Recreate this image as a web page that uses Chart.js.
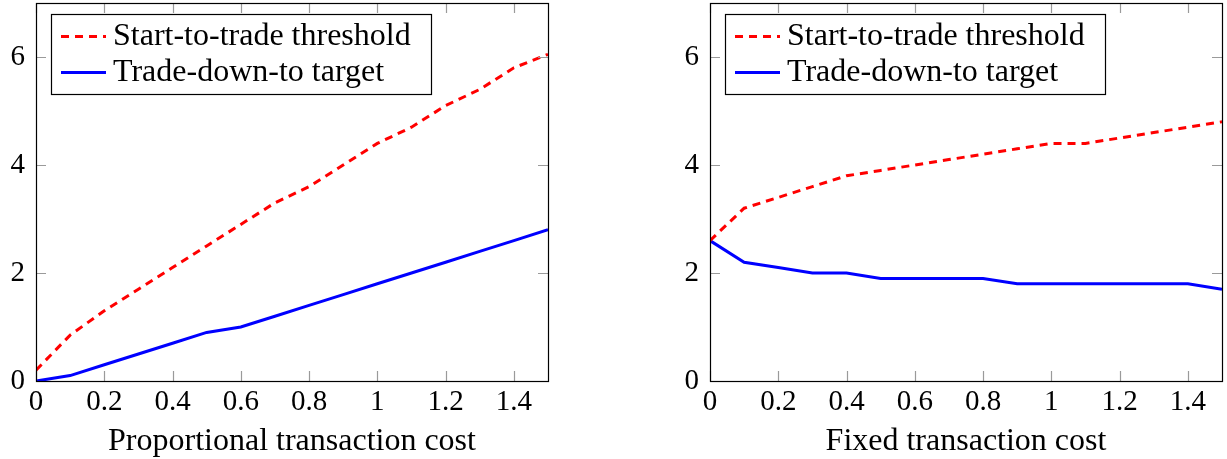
<!DOCTYPE html>
<html>
<head>
<meta charset="utf-8">
<script src="https://cdn.jsdelivr.net/npm/chart.js@4.4.1/dist/chart.umd.min.js"></script>
<style>
  html, body { margin: 0; padding: 0; background: #fff; }
  .panel { position: absolute; top: 0; height: 459px; }
  #leftPanel { left: 0; width: 560px; }
  #rightPanel { left: 674px; width: 553px; }
</style>
</head>
<body>
<div class="panel" id="leftPanel"><canvas id="chartProp"></canvas></div>
<div class="panel" id="rightPanel"><canvas id="chartFixed"></canvas></div>
<script>
const costs = [0, 0.1, 0.2, 0.3, 0.4, 0.5, 0.6, 0.7, 0.8, 0.9, 1.0, 1.1, 1.2, 1.3, 1.4, 1.5];

// proportional cost panel
const propThreshold = [0.2, 0.85, 1.3, 1.7, 2.1, 2.5, 2.9, 3.3, 3.6, 4.0, 4.4, 4.7, 5.1, 5.4, 5.8, 6.05];
const propTarget = [0, 0.1, 0.3, 0.5, 0.7, 0.9, 1.0, 1.2, 1.4, 1.6, 1.8, 2.0, 2.2, 2.4, 2.6, 2.8];

// fixed cost panel
const fixedThreshold = [2.6, 3.2, 3.4, 3.6, 3.8, 3.9, 4.0, 4.1, 4.2, 4.3, 4.4, 4.4, 4.5, 4.6, 4.7, 4.8];
const fixedTarget = [2.6, 2.2, 2.1, 2.0, 2.0, 1.9, 1.9, 1.9, 1.9, 1.8, 1.8, 1.8, 1.8, 1.8, 1.8, 1.7];

const xTicks = [0, 0.2, 0.4, 0.6, 0.8, 1, 1.2, 1.4];
const yTicks = [0, 2, 4, 6];

const serif = "'Liberation Serif', 'DejaVu Serif', serif";

function toPoints(xs, ys) {
    return xs.map((x, i) => ({ x: x, y: ys[i] }));
}

// pgfplots style: grey tick marks pointing inward on all four sides
const innerTicks = {
    id: 'innerTicks',
    afterDraw(chart) {
        const ctx = chart.ctx;
        const area = chart.chartArea;
        const xs = chart.scales.x;
        const ys = chart.scales.y;
        const len = 10;
        ctx.save();
        ctx.strokeStyle = '#9a9a9a';
        ctx.lineWidth = 1.2;
        ctx.beginPath();
        xTicks.forEach(v => {
            const px = Math.round(xs.getPixelForValue(v)) + 0.5;
            ctx.moveTo(px, area.bottom);
            ctx.lineTo(px, area.bottom - len);
            ctx.moveTo(px, area.top);
            ctx.lineTo(px, area.top + len);
        });
        yTicks.forEach(v => {
            const py = Math.round(ys.getPixelForValue(v)) + 0.5;
            ctx.moveTo(area.left, py);
            ctx.lineTo(area.left + len, py);
            ctx.moveTo(area.right, py);
            ctx.lineTo(area.right - len, py);
        });
        ctx.stroke();
        ctx.strokeStyle = '#000';
        ctx.lineWidth = 1.2;
        ctx.strokeRect(Math.round(area.left) + 0.5, Math.round(area.top) + 0.5,
            Math.round(area.right - area.left), Math.round(area.bottom - area.top));
        ctx.restore();
    }
};

// boxed legend in the upper left corner of the plot
const boxLegend = {
    id: 'boxLegend',
    afterDraw(chart) {
        const ctx = chart.ctx;
        const area = chart.chartArea;
        const left = Math.round(area.left) + 15;
        const top = Math.round(area.top) + 11;
        const width = 380;
        const height = 80;
        ctx.save();
        ctx.fillStyle = '#fff';
        ctx.fillRect(left, top, width, height);
        ctx.strokeStyle = '#000';
        ctx.lineWidth = 1.2;
        ctx.strokeRect(left + 0.5, top + 0.5, width, height);
        ctx.font = '32px ' + serif;
        ctx.textBaseline = 'alphabetic';
        chart.data.datasets.forEach((ds, i) => {
            const cy = top + 22.5 + i * 36;
            ctx.strokeStyle = ds.borderColor;
            ctx.lineWidth = ds.borderWidth;
            ctx.setLineDash(ds.borderDash || []);
            ctx.beginPath();
            ctx.moveTo(left + 10, cy);
            ctx.lineTo(left + 55, cy);
            ctx.stroke();
            ctx.setLineDash([]);
            ctx.fillStyle = '#000';
            ctx.fillText(ds.label, left + 62, cy + 8.5);
        });
        ctx.restore();
    }
};

function makeChart(canvasId, threshold, target, xTitle, padRight) {
    const ctx = document.getElementById(canvasId);
    return new Chart(ctx, {
        type: 'line',
        data: {
            datasets: [
                {
                    label: 'Start-to-trade threshold',
                    data: toPoints(costs, threshold),
                    borderColor: '#ff0000',
                    borderWidth: 3,
                    borderDash: [8, 6],
                    pointRadius: 0,
                    tension: 0,
                    fill: false,
                },
                {
                    label: 'Trade-down-to target',
                    data: toPoints(costs, target),
                    borderColor: '#0000ff',
                    borderWidth: 3,
                    pointRadius: 0,
                    tension: 0,
                    fill: false,
                },
            ],
        },
        options: {
            responsive: true,
            maintainAspectRatio: false,
            animation: false,
            layout: { padding: { top: 3, right: padRight, bottom: 0, left: 0 } },
            plugins: {
                legend: { display: false },
                tooltip: { enabled: false },
            },
            scales: {
                x: {
                    type: 'linear',
                    min: 0,
                    max: 1.5,
                    afterFit: s => { s.height = 78; s.paddingLeft = 0; s.paddingRight = 0; },
                    afterBuildTicks: s => { s.ticks = xTicks.map(v => ({ value: v })); },
                    grid: { display: false, drawTicks: false },
                    border: { display: false },
                    ticks: {
                        padding: 4,
                        color: '#000',
                        font: { family: serif, size: 29 },
                        maxRotation: 0,
                        callback: v => String(Math.round(v * 10) / 10),
                    },
                    title: {
                        display: true,
                        text: xTitle,
                        color: '#000',
                        font: { family: serif, size: 32 },
                        padding: { top: 0, bottom: -2 },
                    },
                },
                y: {
                    min: 0,
                    max: 7,
                    afterFit: s => { s.width = 36; s.paddingTop = 0; s.paddingBottom = 0; },
                    afterBuildTicks: s => { s.ticks = yTicks.map(v => ({ value: v })); },
                    grid: { display: false, drawTicks: false },
                    border: { display: false },
                    ticks: {
                        padding: 11,
                        color: '#000',
                        font: { family: serif, size: 29 },
                    },
                },
            },
        },
        plugins: [innerTicks, boxLegend],
    });
}

makeChart('chartProp', propThreshold, propTarget, 'Proportional transaction cost', 12);
makeChart('chartFixed', fixedThreshold, fixedTarget, 'Fixed transaction cost', 5);
</script>
</body>
</html>
